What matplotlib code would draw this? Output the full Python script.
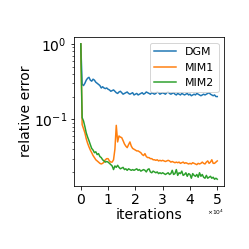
import numpy as np
import matplotlib
matplotlib.use("Agg")
import matplotlib.pyplot as plt

iterations = np.arange(0, 50001, 500)

dgm = [1.0, 0.29, 0.28, 0.30, 0.33, 0.35, 0.36, 0.33, 0.32, 0.34,
       0.33, 0.31, 0.30, 0.29, 0.28, 0.26, 0.27, 0.26, 0.255, 0.26,
       0.25, 0.245, 0.235, 0.24, 0.245, 0.235, 0.225, 0.22, 0.23, 0.235,
       0.225, 0.215, 0.22, 0.225, 0.23, 0.22, 0.215, 0.22, 0.225, 0.21,
       0.215, 0.22, 0.21, 0.215, 0.22, 0.225, 0.215, 0.22, 0.23, 0.225,
       0.22, 0.215, 0.225, 0.22, 0.215, 0.22, 0.23, 0.225, 0.215, 0.22,
       0.225, 0.22, 0.215, 0.225, 0.23, 0.22, 0.215, 0.22, 0.225, 0.215,
       0.21, 0.22, 0.215, 0.21, 0.22, 0.215, 0.21, 0.215, 0.22, 0.21,
       0.215, 0.205, 0.21, 0.215, 0.21, 0.22, 0.215, 0.21, 0.205, 0.21,
       0.215, 0.21, 0.215, 0.22, 0.225, 0.215, 0.21, 0.205, 0.21, 0.2,
       0.2]

mim1 = [1.0, 0.085, 0.075, 0.066, 0.055, 0.048, 0.043, 0.039, 0.036, 0.033,
        0.031, 0.029, 0.028, 0.027, 0.026, 0.0255, 0.026, 0.027, 0.029, 0.030,
        0.030, 0.028, 0.027, 0.027, 0.029, 0.040, 0.083, 0.050, 0.060, 0.058,
        0.057, 0.052, 0.047, 0.044, 0.042, 0.046, 0.050, 0.044, 0.041, 0.040,
        0.039, 0.038, 0.038, 0.037, 0.036, 0.034, 0.033, 0.035, 0.032, 0.031,
        0.031, 0.030, 0.030, 0.029, 0.029, 0.0285, 0.029, 0.028, 0.0285, 0.028,
        0.0285, 0.028, 0.0275, 0.028, 0.0285, 0.028, 0.027, 0.0275, 0.027, 0.0265,
        0.027, 0.0265, 0.027, 0.026, 0.0265, 0.027, 0.026, 0.0265, 0.026, 0.0255,
        0.026, 0.0255, 0.0265, 0.026, 0.0255, 0.025, 0.026, 0.0255, 0.026, 0.027,
        0.026, 0.0255, 0.027, 0.028, 0.026, 0.027, 0.029, 0.026, 0.026, 0.027,
        0.028]

mim2 = [1.0, 0.105, 0.095, 0.08, 0.066, 0.058, 0.052, 0.046, 0.041, 0.039,
        0.036, 0.037, 0.034, 0.035, 0.032, 0.031, 0.029, 0.028, 0.027, 0.0275,
        0.027, 0.026, 0.025, 0.024, 0.0215, 0.024, 0.023, 0.0245, 0.023, 0.022,
        0.0225, 0.023, 0.0215, 0.022, 0.021, 0.022, 0.0215, 0.021, 0.0215, 0.021,
        0.0215, 0.022, 0.021, 0.0215, 0.0205, 0.021, 0.0215, 0.021, 0.020, 0.0215,
        0.022, 0.020, 0.0195, 0.0205, 0.020, 0.0195, 0.020, 0.019, 0.0195, 0.019,
        0.0195, 0.019, 0.0185, 0.019, 0.0195, 0.0185, 0.019, 0.021, 0.0185, 0.019,
        0.0215, 0.018, 0.0195, 0.019, 0.0205, 0.018, 0.0185, 0.0195, 0.0175, 0.019,
        0.0185, 0.0165, 0.019, 0.018, 0.0175, 0.0185, 0.017, 0.0195, 0.0175, 0.0185,
        0.017, 0.0165, 0.018, 0.0165, 0.017, 0.0175, 0.0165, 0.017, 0.016, 0.0165,
        0.016]

series_names = ["DGM", "MIM1", "MIM2"]
x_ticks = [0, 1, 2, 3, 4, 5]
x_scale = 10000

fig = plt.figure(figsize=(249/72, 249/72), dpi=72)
ax = fig.add_axes([0.297, 0.253, 0.603, 0.598])
for name, vals in zip(series_names, [dgm, mim1, mim2]):
    ax.plot(iterations, vals, label=name, linewidth=1.5)
ax.set_yscale("log")
ax.set_xticks([t * x_scale for t in x_ticks])
ax.set_xticklabels([str(t) for t in x_ticks])
ax.text(1.0, -0.18, r"$\times10^{4}$", transform=ax.transAxes,
        ha="right", va="center", fontsize=6)
ax.tick_params(axis="both", labelsize=14)
ax.set_xlabel("iterations", fontsize=14, labelpad=1)
ax.set_ylabel("relative error", fontsize=14, labelpad=1)
ax.legend(loc="upper right", fontsize=11)
fig.savefig("out.png", dpi=72)
